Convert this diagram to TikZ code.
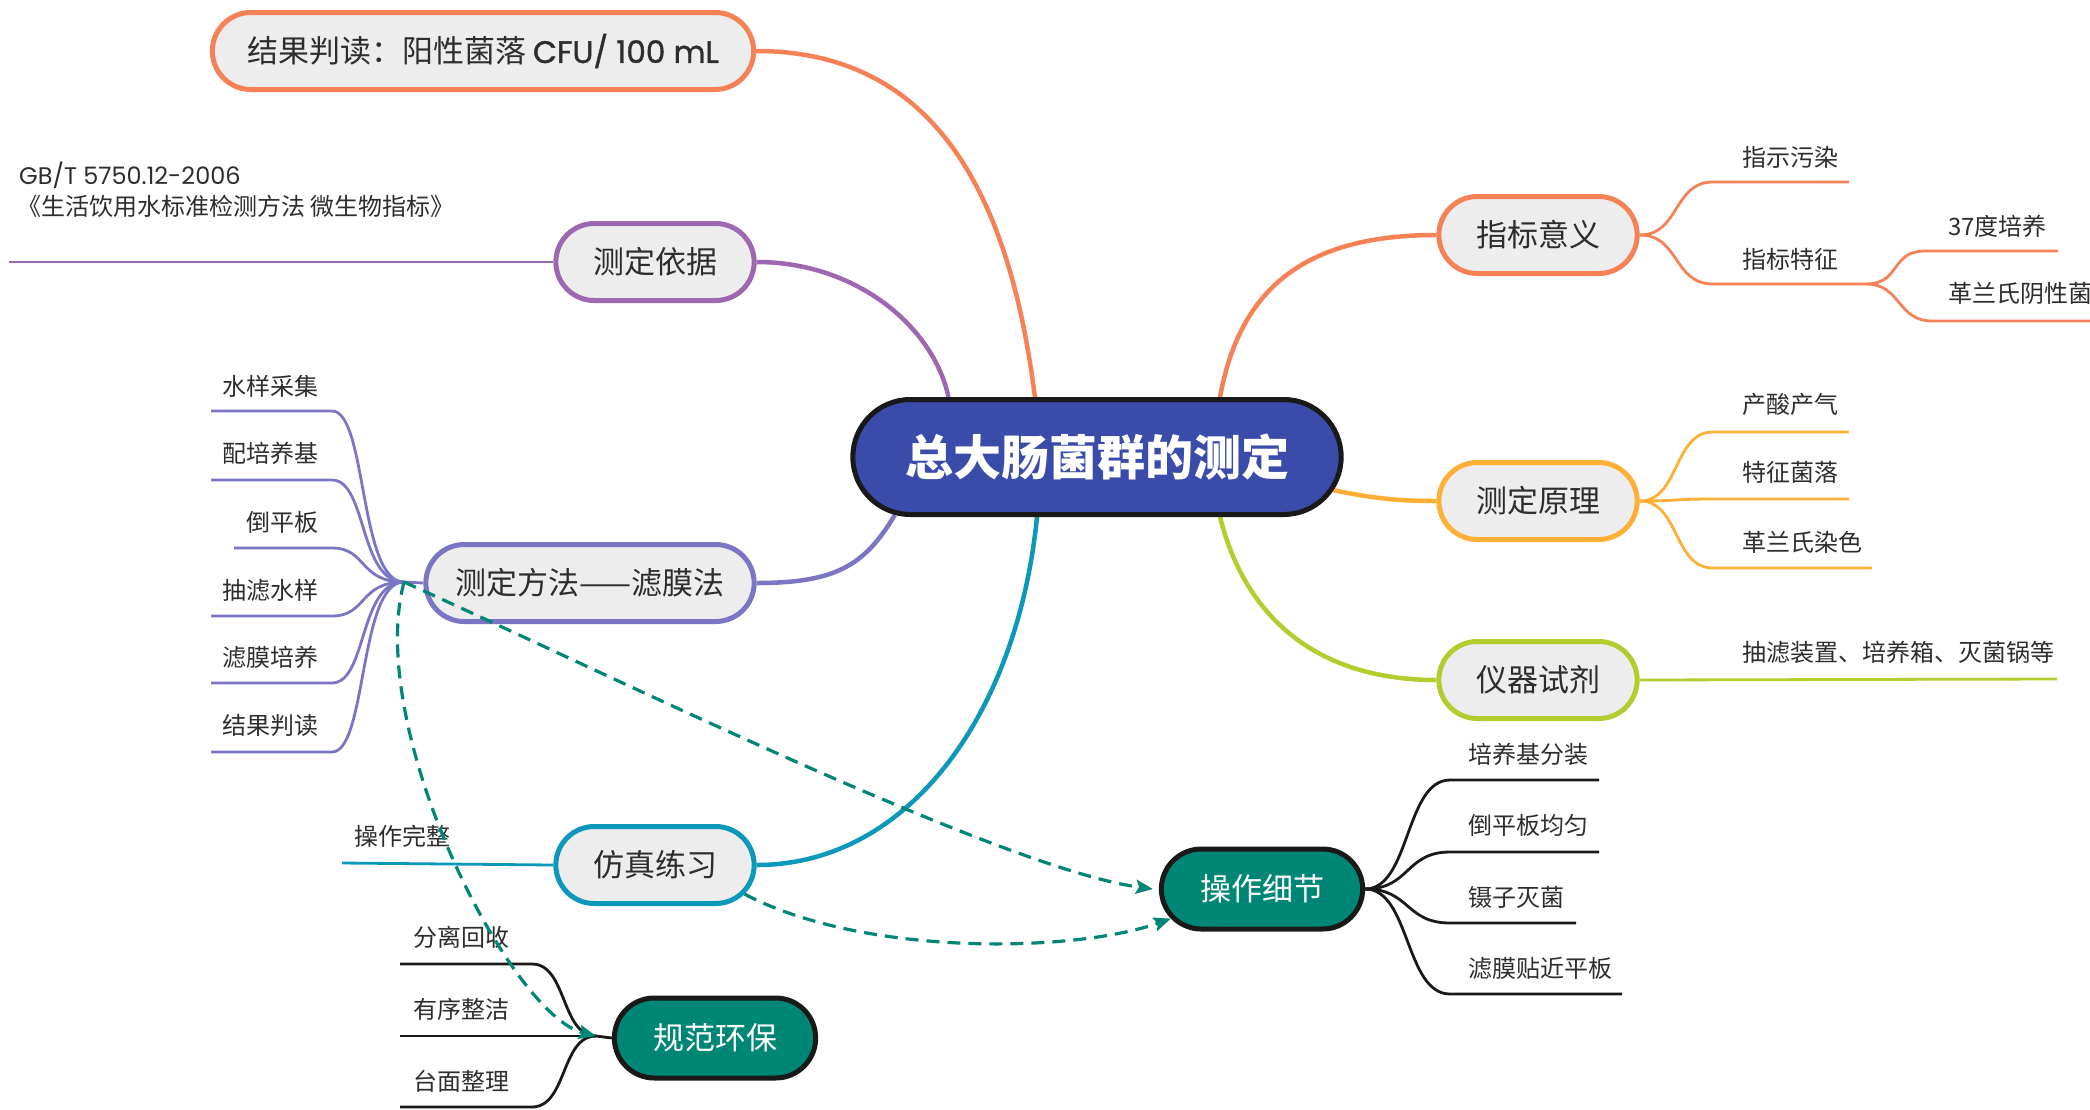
\documentclass[tikz,border=0pt]{standalone}
\usepackage{fontspec}
\setmainfont{Noto Sans CJK SC}
\newfontfamily\latinfont{Poppins}
\usetikzlibrary{shapes.misc,arrows.meta,backgrounds}

\definecolor{corange}{RGB}{247,129,86}
\definecolor{cpurple}{RGB}{158,104,176}
\definecolor{clav}{RGB}{122,118,196}
\definecolor{cteal}{RGB}{12,152,186}
\definecolor{cyellow}{RGB}{255,174,54}
\definecolor{cgreen}{RGB}{180,204,46}
\definecolor{cdark}{RGB}{0,134,117}
\definecolor{cblue}{RGB}{58,75,170}
\definecolor{cfill}{RGB}{237,237,237}
\definecolor{ctext}{RGB}{45,45,45}

\tikzset{
  topic/.style={rounded rectangle, draw, line width=5pt, fill=cfill, text=ctext,
    minimum width=205pt, minimum height=77pt, font=\fontsize{31}{36}\selectfont},
  rootnode/.style={rounded rectangle, draw=black!90, line width=5pt, fill=cblue, text=white,
    minimum width=495pt, minimum height=115pt, font=\fontsize{48}{56}\selectfont\bfseries},
  focus/.style={rounded rectangle, draw=black!90, line width=5pt, fill=cdark, text=white,
    minimum width=208pt, minimum height=80pt, font=\fontsize{31}{36}\selectfont},
  leaf/.style={anchor=base west, inner sep=0pt, text=ctext, font=\fontsize{24}{29}\selectfont},
  leafr/.style={leaf, anchor=base east},
  branch/.style={line width=4.5pt},
  twig/.style={line width=2.8pt},
  link/.style={draw=cdark, line width=3.2pt, dash pattern=on 13pt off 8pt,
    -{Stealth[length=17pt,width=14pt,inset=3pt]}}
}

\begin{document}
\begin{tikzpicture}[x=1pt, y=-1pt]
  \useasboundingbox (0,0) rectangle (2090,1109);

  % ==========================================
  % Nodes
  % ==========================================
  \node[rootnode] (root) at (1097,457) {总大肠菌群的测定};

  \node[topic, draw=corange, minimum width=548pt] (result) at (483,51)
    {结果判读：阳性菌落 {\latinfont\addfontfeatures{FakeBold=1.2}CFU/ 100 mL}};
  \node[topic, draw=cpurple] (basis) at (655,262) {测定依据};
  \node[topic, draw=clav, minimum width=335pt] (method) at (590,583) {测定方法——滤膜法};
  \node[topic, draw=cteal] (sim) at (655,865) {仿真练习};
  \node[focus] (env) at (715,1038) {规范环保};

  \node[topic, draw=corange] (sig) at (1538,235) {指标意义};
  \node[topic, draw=cyellow] (prin) at (1538,501) {测定原理};
  \node[topic, draw=cgreen] (inst) at (1538,680) {仪器试剂};
  \node[focus] (detail) at (1262,889) {操作细节};

  % ==========================================
  % Leaf coordinates
  % ==========================================
  % 指标意义
  \coordinate (sigA1) at (1713,182);  \coordinate (sigB1) at (1849,182);
  \coordinate (sigA2) at (1713,284);  \coordinate (sigB2) at (1866,284);
  \coordinate (subA1) at (1925,251);  \coordinate (subB1) at (2058,251);
  \coordinate (subA2) at (1932,321);  \coordinate (subB2) at (2090,321);
  % 测定原理
  \coordinate (prinA1) at (1713,432); \coordinate (prinB1) at (1849,432);
  \coordinate (prinA2) at (1713,499); \coordinate (prinB2) at (1849,499);
  \coordinate (prinA3) at (1713,568); \coordinate (prinB3) at (1872,568);
  % 仪器试剂
  \coordinate (instB) at (2057,679);
  % 操作细节
  \coordinate (detA1) at (1450,780); \coordinate (detB1) at (1599,780);
  \coordinate (detA2) at (1450,852); \coordinate (detB2) at (1599,852);
  \coordinate (detA3) at (1450,923); \coordinate (detB3) at (1576,923);
  \coordinate (detA4) at (1450,994); \coordinate (detB4) at (1622,994);
  % 测定方法 (left side)
  \coordinate (mhub) at (404,582);
  \coordinate (metA1) at (332,411); \coordinate (metB1) at (211,411);
  \coordinate (metA2) at (332,480); \coordinate (metB2) at (211,480);
  \coordinate (metA3) at (332,548); \coordinate (metB3) at (234,548);
  \coordinate (metA4) at (332,616); \coordinate (metB4) at (211,616);
  \coordinate (metA5) at (332,683); \coordinate (metB5) at (211,683);
  \coordinate (metA6) at (332,752); \coordinate (metB6) at (211,752);
  % 规范环保 (left side)
  \coordinate (ehub) at (596,1036);
  \coordinate (envA1) at (532,964);  \coordinate (envB1) at (400,964);
  \coordinate (envA2) at (532,1036); \coordinate (envB2) at (400,1036);
  \coordinate (envA3) at (532,1107); \coordinate (envB3) at (400,1107);
  % single leaves
  \coordinate (basB) at (9,262);
  \coordinate (simB) at (342,863);

  % ==========================================
  % Leaf labels
  % ==========================================
  \node[leaf] (sigL1) at (1742,166) {指示污染};
  \node[leaf] (sigL2) at (1742,268) {指标特征};
  \node[leaf] (subL1) at (1948,235) {37度培养};
  \node[leaf] (subL2) at (1948,302) {革兰氏阴性菌};

  \node[leaf] (prinL1) at (1742,413) {产酸产气};
  \node[leaf] (prinL2) at (1742,481) {特征菌落};
  \node[leaf] (prinL3) at (1742,551) {革兰氏染色};

  \node[leaf] (instL) at (1742,661) {抽滤装置、培养箱、灭菌锅等};

  \node[leaf] (detL1) at (1468,763) {培养基分装};
  \node[leaf] (detL2) at (1468,834) {倒平板均匀};
  \node[leaf] (detL3) at (1468,906) {镊子灭菌};
  \node[leaf] (detL4) at (1468,977) {滤膜贴近平板};

  \node[leafr] (metL1) at (319,395) {水样采集};
  \node[leafr] (metL2) at (319,462) {配培养基};
  \node[leafr] (metL3) at (319,531) {倒平板};
  \node[leafr] (metL4) at (319,599) {抽滤水样};
  \node[leafr] (metL5) at (319,666) {滤膜培养};
  \node[leafr] (metL6) at (319,734) {结果判读};

  \node[leaf] (envL1) at (413,946) {分离回收};
  \node[leaf] (envL2) at (413,1018) {有序整洁};
  \node[leaf] (envL3) at (413,1090) {台面整理};

  \node[leaf] (simL) at (354,845) {操作完整};

  \node[leaf] (basL1) at (19,184) {\latinfont GB/T 5750.12-2006};
  \node[leaf] (basL2) at (17,215) {《生活饮用水标准检测方法 微生物指标》};

  % ==========================================
  % Connectors
  % ==========================================
  \begin{scope}[on background layer]
    % main branches
    \draw[branch, corange] (root.136) .. controls +(-25,-200) and +(180,0) .. (result.east);
    \draw[branch, cpurple] (root.158) .. controls +(-15,-70) and +(100,0) .. (basis.east);
    \draw[branch, clav]    (root.196) .. controls +(-30,50) and +(80,0) .. (method.east);
    \draw[branch, cteal]   (root.225) .. controls +(-20,200) and +(150,0) .. (sim.east);
    \draw[branch, corange] (root.26)  .. controls +(20,-110) and +(-130,0) .. (sig.west);
    \draw[branch, cyellow] (root.-8)  .. controls +(40,8) and +(-40,0) .. (prin.west);
    \draw[branch, cgreen]  (root.-26) .. controls +(25,100) and +(-120,0) .. (inst.west);

    % 指标意义
    \draw[twig, corange] (sig.east) .. controls +(40,0) and +(-40,0) .. (sigA1) -- (sigB1);
    \draw[twig, corange] (sig.east) .. controls +(40,0) and +(-40,0) .. (sigA2) -- (sigB2);
    \draw[twig, corange] (sigB2) .. controls +(35,0) and +(-35,0) .. (subA1) -- (subB1);
    \draw[twig, corange] (sigB2) .. controls +(35,0) and +(-35,0) .. (subA2) -- (subB2);

    % 测定原理
    \draw[twig, cyellow] (prin.east) .. controls +(40,0) and +(-40,0) .. (prinA1) -- (prinB1);
    \draw[twig, cyellow] (prin.east) .. controls +(40,0) and +(-40,0) .. (prinA2) -- (prinB2);
    \draw[twig, cyellow] (prin.east) .. controls +(40,0) and +(-40,0) .. (prinA3) -- (prinB3);

    % 仪器试剂
    \draw[twig, cgreen] (inst.east) -- (instB);

    % 操作细节
    \draw[twig, black!90] (detail.east) .. controls +(45,0) and +(-45,0) .. (detA1) -- (detB1);
    \draw[twig, black!90] (detail.east) .. controls +(45,0) and +(-45,0) .. (detA2) -- (detB2);
    \draw[twig, black!90] (detail.east) .. controls +(45,0) and +(-45,0) .. (detA3) -- (detB3);
    \draw[twig, black!90] (detail.east) .. controls +(45,0) and +(-45,0) .. (detA4) -- (detB4);

    % 测定方法
    \draw[twig, clav] (method.west) -- (mhub);
    \foreach \i in {1,...,6}
      \draw[twig, clav] (mhub) .. controls +(-45,0) and +(35,0) .. (metA\i) -- (metB\i);

    % 规范环保
    \draw[twig, black!90] (env.west) -- (ehub);
    \foreach \i in {1,2,3}
      \draw[twig, black!90] (ehub) .. controls +(-35,0) and +(35,0) .. (envA\i) -- (envB\i);

    % 测定依据, 仿真练习
    \draw[twig, cpurple] (basis.west) -- (basB);
    \draw[twig, cteal] (sim.west) -- (simB);
  \end{scope}

  % dashed links (on top of the nodes)
  \draw[link] (mhub) .. controls +(200,90) and +(-150,-20) .. ([xshift=-6pt]detail.west);
  \draw[link] (mhub) .. controls +(-39,148) and +(-86,-21) .. (ehub);
  \draw[link] (sim.-18) .. controls +(120,63) and +(-96,34) .. (detail.198);

\end{tikzpicture}
\end{document}
